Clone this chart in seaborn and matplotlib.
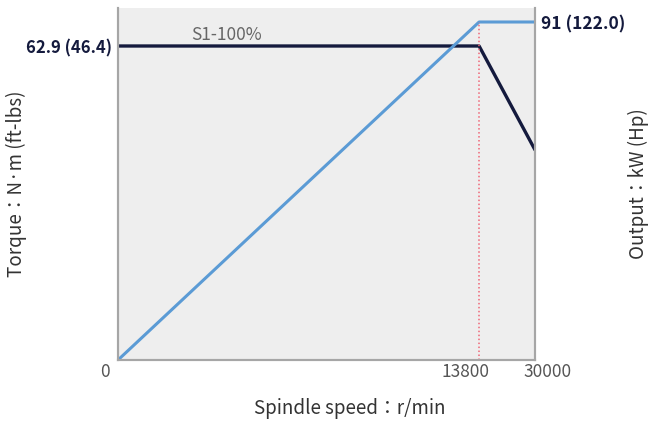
import numpy as np
import pandas as pd
import matplotlib
matplotlib.use("Agg")
import matplotlib.pyplot as plt
import matplotlib.transforms as mtransforms
import seaborn as sns

# Data
speed = [0, 13800, 30000]
torque = [62.9, 62.9, 42.1]
power_speed = [0, 13800, 30000]
power = [0, 91, 91]
x_ticks = [0, 13800, 30000]
torque_label = "62.9 (46.4)"
power_label = "91 (122.0)"

sns.set_style("white")
plt.rcParams['font.family'] = ['Noto Sans CJK JP', 'DejaVu Sans']

# piecewise-linear x scale (the break point sits at 86.6% of the width)
brk = 0.866
def fwd(x):
    x = np.asarray(x, dtype=float)
    return np.where(x <= 13800, x / 13800 * brk, brk + (x - 13800) / 16200 * (1 - brk))
def inv(u):
    u = np.asarray(u, dtype=float)
    return np.where(u <= brk, u / brk * 13800, 13800 + (u - brk) / (1 - brk) * 16200)

df_t = pd.DataFrame({"speed": speed, "torque": torque})
df_p = pd.DataFrame({"speed": power_speed, "power": power})

fig = plt.figure(figsize=(6.49, 4.23), dpi=100)
ax = fig.add_axes([0.1818, 0.1489, 0.6425, 0.8322])
ax.set_facecolor("#eeeeee")
ax2 = ax.twinx()

navy = "#141a3d"
blue = "#5b9bd5"
grey = "#a6a6a6"

sns.lineplot(data=df_t, x="speed", y="torque", ax=ax, color=navy, linewidth=2.4)
sns.lineplot(data=df_p, x="speed", y="power", ax=ax2, color=blue, linewidth=2.2)
ax2.vlines(13800, 0, 91, colors="#ee6677", linestyles=(0, (1, 1.6)), linewidth=1.1)

for a in (ax, ax2):
    a.set_xscale("function", functions=(fwd, inv))
    a.set_xlim(0, 30000)
    a.spines["top"].set_visible(False)
    for s in ("left", "right", "bottom"):
        a.spines[s].set_color(grey)
        a.spines[s].set_linewidth(1.5)

ax.set_ylim(0, 62.9 * 352 / 314)
ax2.set_ylim(0, 91 * 352 / 338)

ax.set_xticks(x_ticks)
ax.set_xticklabels([str(v) for v in x_ticks], color="#555555", fontsize=12.5)
ax.tick_params(axis="x", length=0, pad=2)
# shift tick labels sideways like the reference
shifts = [-13, -14, 13]
for lab, dx in zip(ax.get_xticklabels(), shifts):
    lab.set_transform(lab.get_transform() + mtransforms.ScaledTranslation(dx / 100, 0, fig.dpi_scale_trans))

ax.set_yticks([62.9])
ax.set_yticklabels([torque_label], fontsize=12, fontweight="bold", color=navy)
ax.tick_params(axis="y", length=0, pad=4)
ax2.set_yticks([91])
ax2.set_yticklabels([power_label], fontsize=12.5, fontweight="bold", color=navy)
ax2.tick_params(axis="y", length=0, pad=4)

ax.set_xlabel("Spindle speed：r/min", fontsize=13.5, color="#333333")
ax.xaxis.set_label_coords(0.556, -0.108)
ax.set_ylabel("Torque：N·m (ft-lbs)", fontsize=13.5, color="#333333")
ax.yaxis.set_label_coords(-0.218, 0.5)
ax2.set_ylabel("Output：kW (Hp)", fontsize=13.5, color="#333333")
ax2.yaxis.set_label_coords(1.223, 0.5)

ax.text(4130, 63.4, "S1-100%", fontsize=12.5, color="#666666", ha="center", va="bottom")

fig.savefig("out.png", dpi=100)
